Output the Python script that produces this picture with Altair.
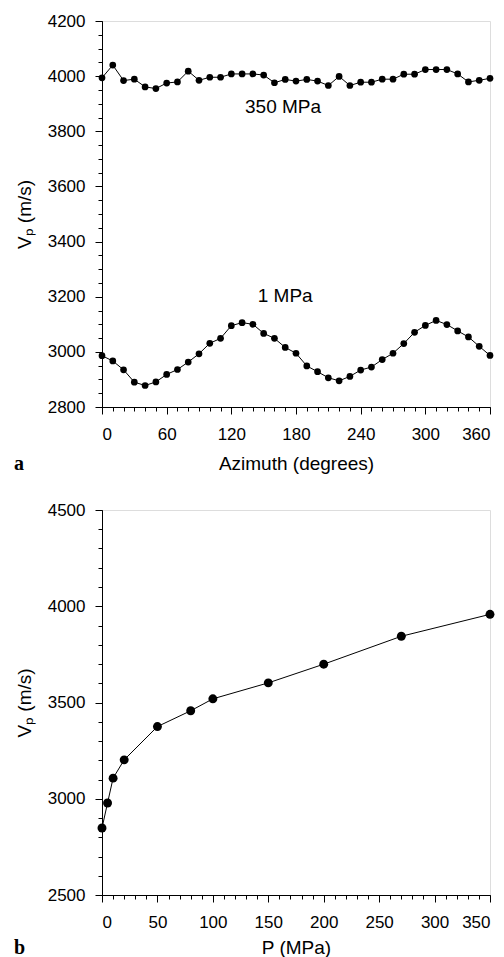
import altair as alt
import pandas as pd

# ---- Panel a data: Vp vs azimuth ----
azimuth = list(range(0, 361, 10))
vp_350mpa = [3994, 4040, 3984, 3989, 3961, 3955, 3975, 3979, 4018, 3985,
             3996, 3996, 4008, 4008, 4008, 4004, 3976, 3988, 3982, 3988,
             3982, 3966, 3999, 3966, 3978, 3978, 3989, 3989, 4007, 4007,
             4024, 4024, 4024, 4008, 3979, 3985, 3992]
vp_1mpa = [2986, 2967, 2935, 2890, 2878, 2891, 2918, 2936, 2963, 2993,
           3031, 3049, 3095, 3106, 3100, 3067, 3049, 3016, 2995, 2949,
           2928, 2906, 2895, 2911, 2934, 2945, 2972, 2995, 3030, 3071,
           3096, 3114, 3099, 3076, 3054, 3020, 2987]
ann_text = ["350 MPa", "1 MPa"]
ann_az = [168, 170]
ann_vp = [3887, 3203]

# ---- Panel b data: Vp vs pressure ----
pressure = [0, 5, 10, 20, 50, 80, 100, 150, 200, 270, 350]
vp_pressure = [2848, 2978, 3107, 3202, 3375, 3457, 3519, 3602, 3699, 3844, 3958]

# ---- Axis ticks ----
a_x_major = list(range(0, 361, 60))
a_x_minor = list(range(0, 361, 10))
a_y_major = list(range(2800, 4201, 200))
a_y_minor = list(range(2800, 4201, 50))
b_x_major = list(range(0, 351, 50))
b_x_minor = list(range(0, 351, 10))
b_y_major = list(range(2500, 4501, 500))
b_y_minor = list(range(2500, 4501, 100))

FONT = "Liberation Sans"
W = 388

df_a = pd.DataFrame({
    "az": azimuth * 2,
    "vp": vp_350mpa + vp_1mpa,
    "series": ["350 MPa"] * len(azimuth) + ["1 MPa"] * len(azimuth),
})
df_ann = pd.DataFrame({"t": ann_text, "az": ann_az, "vp": ann_vp})
df_b = pd.DataFrame({"p": pressure, "vp": vp_pressure})


def major_axis(values, title, orient, title_pad):
    return alt.Axis(values=values, title=title, orient=orient, grid=False,
                    format="d", tickSize=7,
                    labelPadding=10 if orient == "left" else 12,
                    titlePadding=title_pad,
                    labelFontSize=17, titleFontSize=19, labelFont=FONT,
                    titleFont=FONT, titleFontWeight="normal",
                    labelColor="black", titleColor="black",
                    domainColor="black", tickColor="black", labelOverlap=False)


def minor_axis(values, orient):
    return alt.Axis(values=values, title=None, orient=orient, grid=False,
                    labels=False, tickSize=4, domain=False, tickColor="black")


def panel(df, xf, yf, xdom, ydom, xmaj, xmin, ymaj, ymin, xtitle, size,
          letter, letter_y, xtitle_pad, extra=None, detail=None):
    xs = alt.Scale(domain=xdom, nice=False, zero=False)
    ys = alt.Scale(domain=ydom, nice=False, zero=False)
    enc_line = dict(
        x=alt.X(xf, type="quantitative", scale=xs, axis=minor_axis(xmin, "bottom")),
        y=alt.Y(yf, type="quantitative", scale=ys, axis=minor_axis(ymin, "left")),
    )
    if detail:
        enc_line["detail"] = alt.Detail(detail, type="nominal")
    line = alt.Chart(df).mark_line(color="black", strokeWidth=1).encode(**enc_line)
    pts = alt.Chart(df).mark_circle(color="black", opacity=1, size=size).encode(
        x=alt.X(xf, type="quantitative", scale=xs,
                axis=major_axis(xmaj, xtitle, "bottom", xtitle_pad)),
        y=alt.Y(yf, type="quantitative", scale=ys,
                axis=major_axis(ymaj, "Vₚ (m/s)", "left", 13)),
    )
    lab = alt.Chart(pd.DataFrame({"t": [letter]})).mark_text(
        font="Liberation Serif", fontWeight="bold", fontSize=20,
        align="left", baseline="alphabetic", color="black"
    ).encode(text="t:N", x=alt.value(-88), y=alt.value(letter_y))
    layers = [line, pts]
    if extra is not None:
        layers.append(extra(xs, ys))
    layers.append(lab)
    return alt.layer(*layers).resolve_axis(x="independent", y="independent")


def annotations(xs, ys):
    return alt.Chart(df_ann).mark_text(
        font=FONT, fontSize=19, color="black", align="center", baseline="middle"
    ).encode(
        x=alt.X("az:Q", scale=xs, axis=None),
        y=alt.Y("vp:Q", scale=ys, axis=None),
        text="t:N",
    )


top = panel(df_a, "az", "vp", [0, 360], [2800, 4200], a_x_major, a_x_minor,
            a_y_major, a_y_minor, "Azimuth (degrees)", 45, "a", 449, 12,
            extra=annotations, detail="series").properties(width=W, height=386)
bottom = panel(df_b, "p", "vp", [0, 350], [2500, 4500], b_x_major, b_x_minor,
               b_y_major, b_y_minor, "P (MPa)", 80, "b", 444, 8
               ).properties(width=W, height=385)

chart = alt.vconcat(top, bottom, spacing=25).properties(
    padding={"left": 5, "top": 3, "right": 0, "bottom": 0}
).configure_view(stroke="black", strokeWidth=1).configure(background="white")

chart.save("out.html", embed_options={"renderer": "svg", "actions": False})
